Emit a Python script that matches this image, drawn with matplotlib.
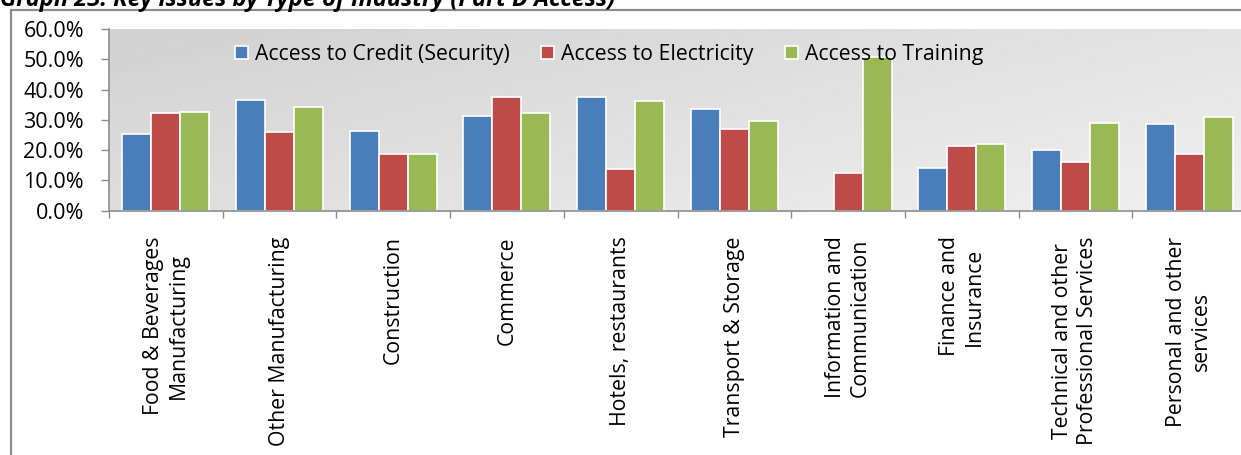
import numpy as np
import matplotlib.pyplot as plt
from matplotlib.patches import Rectangle

plt.rcParams['font.family'] = ['Open Sans', 'DejaVu Sans']

categories = ['Food & Beverages\nManufacturing', 'Other Manufacturing', 'Construction',
              'Commerce', 'Hotels, restaurants', 'Transport & Storage',
              'Information and\nCommunication', 'Finance and\nInsurance',
              'Technical and other\nProfessional Services', 'Personal and other\nservices']
credit = [25.2, 36.5, 26.3, 31.3, 37.6, 33.6, 0.0, 14.0, 20.0, 28.5]
electricity = [32.3, 26.1, 18.6, 37.6, 13.7, 27.0, 12.3, 21.5, 16.0, 18.7]
training = [32.7, 34.1, 18.6, 32.3, 36.3, 29.6, 50.6, 22.0, 29.0, 31.0]
series_names = ['Access to Credit (Security)', 'Access to Electricity', 'Access to Training']
colors = ['#4a7ebb', '#be4b48', '#98b954']

fig = plt.figure(figsize=(12.41, 4.55), dpi=100)
W, H = 1241, 455

# outer frame
fig.patches.append(Rectangle((11 / W, -0.1), 1.1, 1 - 10 / H + 0.1, transform=fig.transFigure,
                             fill=False, edgecolor='#8c8c8c', linewidth=1.6))

fig.text(0.0, 1 - 6 / H, 'Graph 23: Key issues by Type of Industry (Part D Access)',
         fontsize=17, fontweight='bold', fontstyle='italic', va='baseline', ha='left')

ax = fig.add_axes([109 / W, 1 - 210.7 / H, (1246 - 109) / W, (210.7 - 29) / H])
ax.set_xlim(0, len(categories))
ax.set_ylim(0, 60)

# gradient background of plot area
grad = np.linspace(0, 1, 256)
gx, gy = np.meshgrid(grad, grad)
g = 0.82 + 0.12 * (0.6 * gx + 0.4 * gy)
ax.imshow(g, extent=[0, len(categories), 0, 60], aspect='auto', cmap='gray',
          vmin=0, vmax=1, zorder=0, origin='upper')

x = np.arange(len(categories)) + 0.5
w = 0.255
for i, (vals, name, c) in enumerate(zip([credit, electricity, training], series_names, colors)):
    ax.bar(x + (i - 1) * w, vals, w, color=c, edgecolor='white', linewidth=1.2,
           label=name, zorder=2)

ax.set_yticks(np.arange(0, 61, 10))
ax.set_yticklabels(['%.1f%%' % v for v in np.arange(0, 61, 10)], fontsize=15.5)
ax.set_xticks(np.arange(0, len(categories) + 1))
ax.set_xticklabels([])
ax.tick_params(axis='y', length=6, width=1, color='#8c8c8c', pad=12)
ax.tick_params(axis='x', length=5, width=1, color='#8c8c8c')
for s in ['top', 'right']:
    ax.spines[s].set_visible(False)
for s in ['left', 'bottom']:
    ax.spines[s].set_color('#8c8c8c')
    ax.spines[s].set_linewidth(1.2)

for xi, lab in zip(x, categories):
    ax.text(xi, -8.5, lab, rotation=90, ha='center', va='top', multialignment='center',
            fontsize=15.3, linespacing=1.25, transform=ax.transData, clip_on=False)

ax.legend(loc='upper left', bbox_to_anchor=(0.1108, 0.917), ncol=3, frameon=False,
          fontsize=15.3, handlelength=0.6, handleheight=0.6, handletextpad=0.33,
          columnspacing=1.5, borderaxespad=0, borderpad=0)

fig.savefig('out.png', dpi=100)
